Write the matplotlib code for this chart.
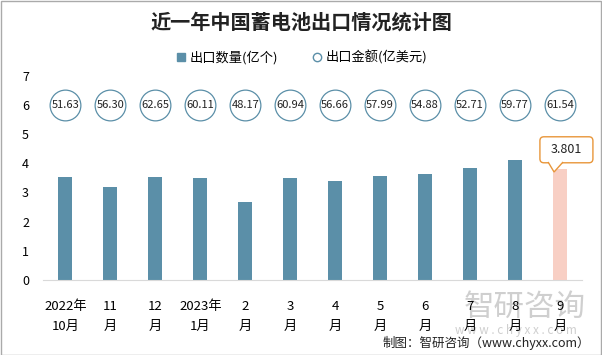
import matplotlib
matplotlib.use("Agg")
import matplotlib.pyplot as plt
from matplotlib.lines import Line2D
from matplotlib.patches import Rectangle, FancyBboxPatch, Polygon
from matplotlib.transforms import IdentityTransform

plt.rcParams['font.family'] = ['Noto Sans CJK SC', 'DejaVu Sans']

# data
months = ["2022年\n10月", "11\n月", "12\n月", "2023年\n1月", "2\n月", "3\n月",
          "4\n月", "5\n月", "6\n月", "7\n月", "8\n月", "9\n月"]
quantity = [3.53, 3.19, 3.53, 3.50, 2.68, 3.50, 3.40, 3.57, 3.64, 3.85, 4.12, 3.801]
amount = [51.63, 56.30, 62.65, 60.11, 48.17, 60.94, 56.66, 57.99, 54.88, 52.71, 59.77, 61.54]

bar_color = "#5B8FA8"
last_color = "#F8CFC4"
callout_color = "#E8963A"
circle_y = 6

fig = plt.figure(figsize=(6.02, 3.55), dpi=100)

# watermark first so the axes and labels sit on top of it
fig.text(0.872, 0.135, "智研咨询", fontsize=22, color="#C4C4C4", alpha=0.8,
         ha="center", va="center", zorder=0)
fig.text(0.857, 0.07, "w w w . c h y x x . c o m", fontsize=8.5, color="#CFCFCF",
         ha="center", va="center", zorder=0)

ax = fig.add_axes([0.0714, 0.211, 0.896, 0.576], zorder=1)
ax.patch.set_alpha(0)

x = list(range(len(months)))
colors = [bar_color] * (len(months) - 1) + [last_color]
ax.bar(x, quantity, width=0.31, color=colors, zorder=2)

# amount shown as labelled circles along the top
ax.scatter(x, [circle_y] * len(x), s=490, facecolors="white",
           edgecolors="#5B8FA8", linewidths=0.9, zorder=3)
for xi, v in zip(x, amount):
    ax.text(xi, circle_y, f"{v:.2f}", ha="center", va="center",
            fontsize=8, color="#222222", zorder=4)

ax.set_xlim(-0.5, len(months) - 0.5)
ax.set_ylim(0, 7)
ax.set_yticks(range(0, 8))
ax.set_xticks(x)
ax.set_xticklabels(months, fontsize=9.5, linespacing=1.75)
ax.tick_params(axis="y", labelsize=9, length=0, pad=10)
ax.tick_params(axis="x", length=0, pad=14)
for s in ["top", "right", "left"]:
    ax.spines[s].set_visible(False)
ax.spines["bottom"].set_color("#D9D9D9")

# callout bubble for the latest month (pixel offsets, axes are fixed)
tip = ax.transData.transform((x[-1] - 0.13, quantity[-1] - 0.1))
cx, cy = ax.transData.transform((x[-1] + 0.145, quantity[-1] + 0.66))
w, h = 53, 26
fig.patches.append(FancyBboxPatch((cx - w / 2, cy - h / 2), w, h,
                                  boxstyle="round,pad=0,rounding_size=4",
                                  fc="white", ec=callout_color, lw=1,
                                  transform=IdentityTransform(), zorder=5))
base_y = cy - h / 2
fig.patches.append(Polygon([(tip[0] - 6, base_y + 0.8), (tip[0], tip[1]),
                            (tip[0] + 9, base_y + 0.8)], closed=False,
                           fc="white", ec=callout_color, lw=1,
                           transform=IdentityTransform(), zorder=6))
fig.text(cx, cy, f"{quantity[-1]:.3f}", transform=IdentityTransform(),
         ha="center", va="center", fontsize=9, color="#222222", zorder=7)

fig.text(0.5, 0.938, "近一年中国蓄电池出口情况统计图", fontsize=14.5,
         fontweight="bold", ha="center", va="center", color="#222222")

handles = [
    Line2D([], [], marker="s", linestyle="none", markersize=6,
           markerfacecolor=bar_color, markeredgecolor=bar_color),
    Line2D([], [], marker="o", linestyle="none", markersize=6,
           markerfacecolor="white", markeredgecolor=bar_color),
]
fig.legend(handles, ["出口数量(亿个)", "出口金额(亿美元)"], loc="center",
           bbox_to_anchor=(0.5, 0.838), ncol=2, frameon=False, fontsize=9.5,
           handletextpad=0.1, columnspacing=2.5, handlelength=1)

fig.text(0.98, 0.034, "制图：智研咨询（www.chyxx.com）", fontsize=9,
         color="#222222", ha="right", va="center")

fig.patches.append(Rectangle((0.001, 0.001), 0.997, 0.996, transform=fig.transFigure,
                             fill=False, ec="#AAAAAA", lw=1))

fig.savefig("out.png", dpi=100)
